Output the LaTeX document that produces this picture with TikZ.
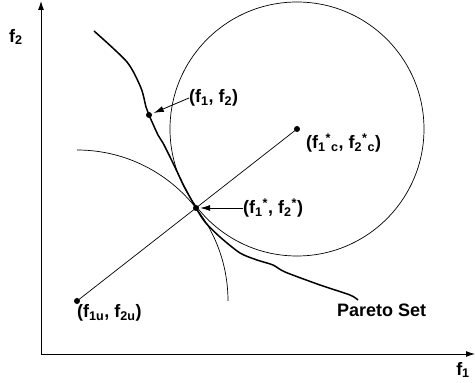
\documentclass[tikz,border=0pt]{standalone}
\usepackage{fontspec}
\setmainfont{Liberation Sans}
\usetikzlibrary{arrows.meta}

\tikzset{
	lbl/.style={font=\fontsize{18}{21}\selectfont\bfseries, inner sep=0pt},
	pt/.style={fill=black, circle, inner sep=0pt, minimum size=6pt},
	pointer/.style={-{Latex[length=10pt,width=6pt]}, line width=0.8pt},
}

\begin{document}
\begin{tikzpicture}[x=1pt, y=1pt]
		\useasboundingbox (0,0) rectangle (475,383);

		% Axes
		\coordinate (o) at (41,29);
		\coordinate (ytop) at (41,382);
		\coordinate (xend) at (475,29);
		\draw[line width=0.9pt, -{Latex[length=9pt,width=6pt]}] (o) -- (ytop);
		\draw[line width=0.9pt, -{Latex[length=9pt,width=6pt]}] (o) -- (xend);
		\node[lbl] (f2ax) at (16,346) {f\textsubscript{2}};
		\node[lbl] (f1ax) at (463,13) {f\textsubscript{1}};

		% Points
		\node[pt] (c) at (297,254) {};
		\node[pt] (t) at (196,175) {};
		\node[pt] (u) at (77,82) {};
		\node[pt] (p) at (149,268) {};

		% Circle round the centre point, touching the set at (f1*, f2*)
		\draw[line width=0.7pt] (c.center) circle (127);

		% Arc round the utopia point
		\draw[line width=0.7pt] (u.center) ++(0,151) arc[start angle=90, end angle=0, radius=151];

		% Line from utopia point to centre
		\draw[line width=0.7pt] (u.center) -- (c.center);

		% Pareto set
		\draw[line width=1.5pt, line join=round] plot[smooth, tension=0.45] coordinates {
				(94,352) (127,321) (141,295) (146,276) (149,268) (158,248) (163,240)
				(172,222) (184,197) (196,175) (205,161) (220,146) (240,130) (257,123)
				(273,118) (285,111) (320,98) (350,88) (358,83)};

		% Labels
		\node[lbl, anchor=west] (lp) at (189,285) {(f\textsubscript{1}, f\textsubscript{2})};
		\node[lbl, anchor=west] (lt) at (243,175) {(f\textsubscript{1}\textsuperscript{*}, f\textsubscript{2}\textsuperscript{*})};
		\node[lbl, anchor=west] (lc) at (306,240) {(f\textsubscript{1}\textsuperscript{*}\textsubscript{c}, f\textsubscript{2}\textsuperscript{*}\textsubscript{c})};
		\node[lbl, anchor=west] (lu) at (77,70) {(f\textsubscript{1u}, f\textsubscript{2u})};
		\node[lbl, anchor=west] (ls) at (337,73) {Pareto Set};

		\draw[pointer, shorten >=2pt] (lp.west) -- (p);
		\draw[pointer, shorten >=1pt] (lt.west) -- (t);
	\end{tikzpicture}
\end{document}
